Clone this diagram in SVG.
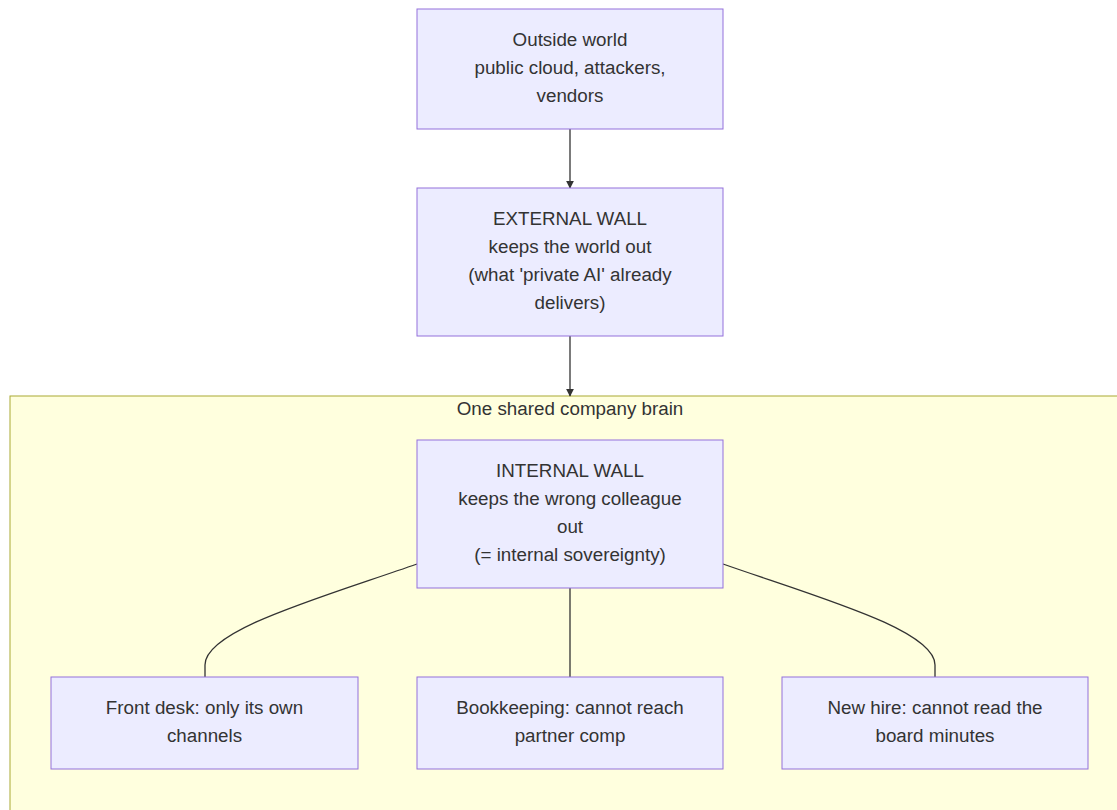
<svg xmlns="http://www.w3.org/2000/svg" width="1117" height="810" viewBox="0 0 1117 810">
<style>
.node rect{fill:#ECECFF;stroke:#9370DB;stroke-width:1}
text{font-family:"Liberation Sans",Arial,sans-serif;font-size:18.8px;fill:#333;text-anchor:middle;dominant-baseline:central}
.edge{fill:none;stroke:#333;stroke-width:1.3}
.cluster rect{fill:#ffffde;stroke:#aaaa33;stroke-width:1}
</style>
<defs>
<marker id="arrow" viewBox="0 0 10 10" refX="9" refY="5" markerWidth="8" markerHeight="8" markerUnits="userSpaceOnUse" orient="auto">
<path d="M0,0 L10,5 L0,10 z" fill="#333"/>
</marker>
</defs>
<rect width="1117" height="810" fill="#fff"/>
<g id="cluster-brain" class="cluster">
<rect x="10" y="396" width="1120" height="430"/>
<text x="570" y="408">One shared company brain</text>
</g>
<g id="connectors">
<path class="edge" d="M570,129 L570,188" marker-end="url(#arrow)"/>
<path class="edge" d="M570,336 L570,396" marker-end="url(#arrow)"/>
<path class="edge" d="M417,564 C320,598 205,630 205,665 L205,677"/>
<path class="edge" d="M570,588 L570,677"/>
<path class="edge" d="M723,564 C820,598 935,630 935,665 L935,677"/>
</g>
<g id="outside" class="node">
<rect x="417" y="9" width="306" height="120"/>
<text x="570" y="39">Outside world</text>
<text x="570" y="67">public cloud, attackers,</text>
<text x="570" y="95">vendors</text>
</g>
<g id="external" class="node">
<rect x="417" y="188" width="306" height="148"/>
<text x="570" y="218">EXTERNAL WALL</text>
<text x="570" y="246">keeps the world out</text>
<text x="570" y="274">(what 'private AI' already</text>
<text x="570" y="302">delivers)</text>
</g>
<g id="internal" class="node">
<rect x="417" y="440" width="306" height="148"/>
<text x="570" y="470">INTERNAL WALL</text>
<text x="570" y="498">keeps the wrong colleague</text>
<text x="570" y="526">out</text>
<text x="570" y="554">(= internal sovereignty)</text>
</g>
<g id="frontdesk" class="node">
<rect x="51" y="677" width="307" height="92"/>
<text x="204.5" y="707">Front desk: only its own</text>
<text x="204.5" y="735">channels</text>
</g>
<g id="bookkeeping" class="node">
<rect x="417" y="677" width="306" height="92"/>
<text x="570" y="707">Bookkeeping: cannot reach</text>
<text x="570" y="735">partner comp</text>
</g>
<g id="newhire" class="node">
<rect x="782" y="677" width="306" height="92"/>
<text x="935" y="707">New hire: cannot read the</text>
<text x="935" y="735">board minutes</text>
</g>
</svg>
